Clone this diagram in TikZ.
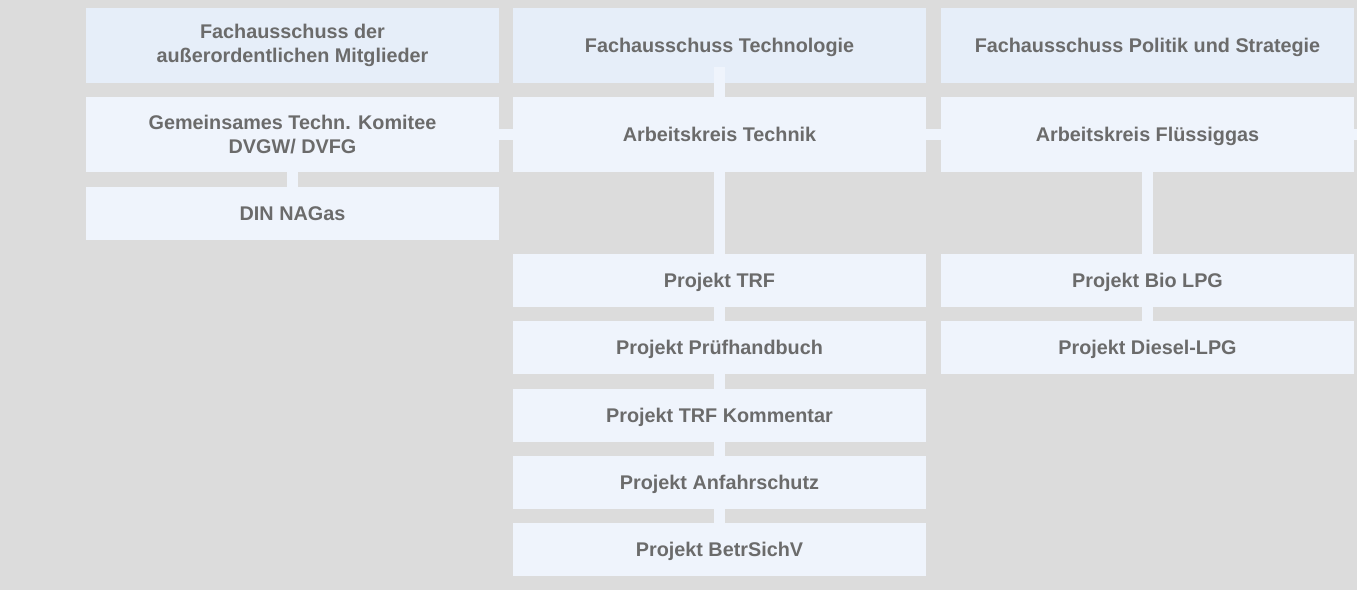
\documentclass[tikz,border=0pt]{standalone}
\usepackage{fontspec}
\setmainfont{Liberation Sans}
\definecolor{canvas}{HTML}{DCDCDC}
\definecolor{headfill}{HTML}{E6EEF9}
\definecolor{unitfill}{HTML}{EFF4FC}
\definecolor{labeltext}{HTML}{6B6B6B}
\pgfdeclarelayer{base}
\pgfdeclarelayer{links}
\pgfsetlayers{base,links,main}
\tikzset{
  unit/.style={minimum width=413pt, minimum height=75pt, inner sep=0pt,
    align=center, text=labeltext, font=\fontsize{19.8}{24.5}\selectfont\bfseries,
    text height=16pt, text depth=2pt},
  twoline/.style={text height=, text depth=},
  head/.style={unit},
  mainunit/.style={unit, fill=unitfill},
  proj/.style={unit, fill=unitfill, minimum height=53pt},
  link/.style={draw=unitfill, line width=11pt},
}
\begin{document}
\begin{tikzpicture}[x=1pt, y=-1pt]
  \begin{pgfonlayer}{base}
    \fill[canvas] (0,0) rectangle (1357,590);
  \end{pgfonlayer}
  \useasboundingbox (0,0) rectangle (1357,590);

  % committees (top row)
  \node[head, twoline] (fam) at (292.5,45.5) {Fachausschuss der\\außerordentlichen Mitglieder};
  \node[head] (ft)  at (719.5,45.5) {Fachausschuss Technologie};
  \node[head] (fps) at (1147.5,45.5) {Fachausschuss Politik und Strategie};
  \begin{pgfonlayer}{base}
    \foreach \n in {fam,ft,fps}
      \fill[headfill] (\n.south west) rectangle (\n.north east);
  \end{pgfonlayer}

  % working groups
  \node[mainunit, twoline] (gtk) at (292.5,134.5) {Gemeinsames Techn. Komitee\\DVGW/ DVFG};
  \node[mainunit] (akt) at (719.5,134.5) {Arbeitskreis Technik};
  \node[mainunit] (akf) at (1147.5,134.5) {Arbeitskreis Flüssiggas};
  \node[proj] (din) at (292.5,213.5) {DIN NAGas};

  % projects
  \node[proj] (trf)  at (719.5,280.5) {Projekt TRF};
  \node[proj] (pruef) at (719.5,347.5) {Projekt Prüfhandbuch};
  \node[proj] (komm) at (719.5,415) {Projekt TRF Kommentar};
  \node[proj] (anf)  at (719.5,482.5) {Projekt Anfahrschutz};
  \node[proj] (betr) at (719.5,549.5) {Projekt BetrSichV};
  \node[proj] (bio)  at (1147.5,280.5) {Projekt Bio LPG};
  \node[proj] (diesel) at (1147.5,347.5) {Projekt Diesel-LPG};

  \coordinate (rim) at (1357,134.5);

  % connectors
  \begin{pgfonlayer}{links}
    \draw[link] (gtk.east) -- (rim);
    \draw[link] (gtk.south) -- (din.north);
    \draw[link, shorten <=-16pt] (ft.south) -- (akt.north);
    \draw[link] (akt.south) -- (betr.north);
    \draw[link] (akf.south) -- (diesel.north);
  \end{pgfonlayer}
\end{tikzpicture}
\end{document}
